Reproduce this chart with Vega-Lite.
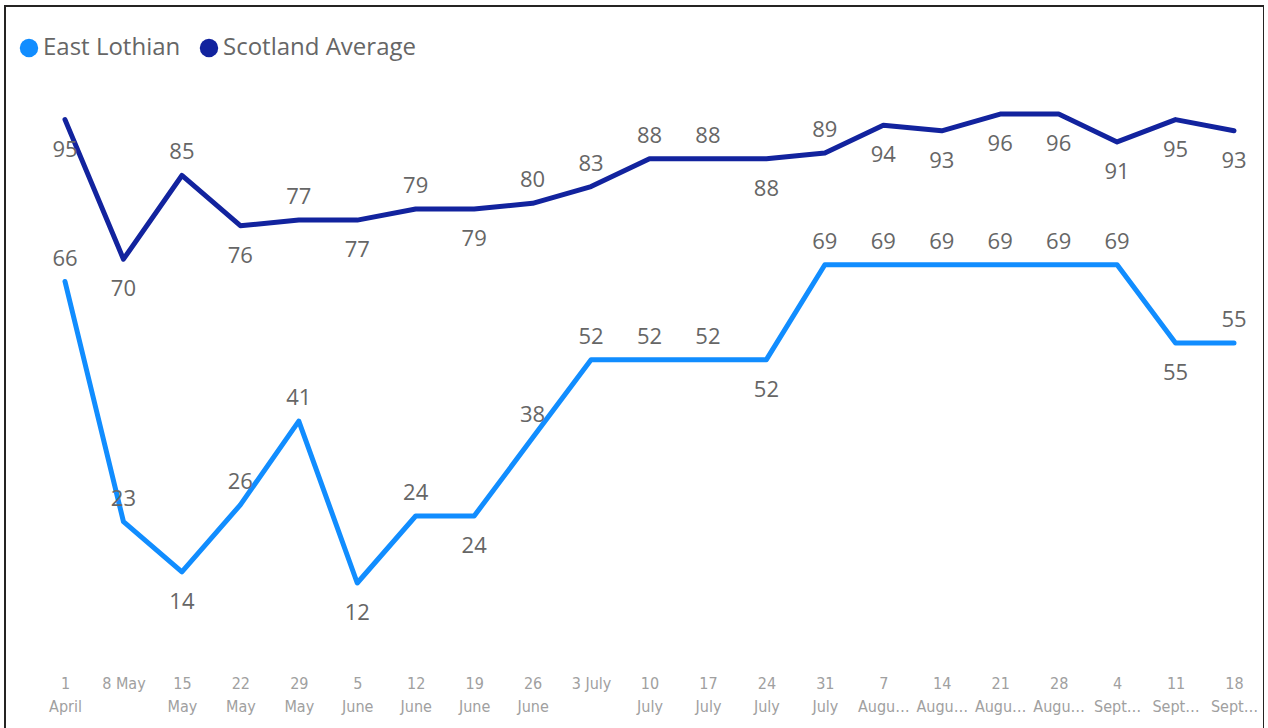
{
  "$schema": "https://vega.github.io/schema/vega-lite/v6.json",
  "autosize": {"type": "none"},
  "padding": {"left": 5, "top": 6, "right": 0, "bottom": 0},
  "width": 1259,
  "height": 740,
  "background": "white",
  "config": {
    "view": {"stroke": "#252423", "strokeWidth": 2},
    "font": "Open Sans"
  },
  "data": {
    "values": [
      {"week": "1 April", "area": "East Lothian", "value": 66, "labelPos": "above"},
      {"week": "8 May", "area": "East Lothian", "value": 23, "labelPos": "above"},
      {"week": "15 May", "area": "East Lothian", "value": 14, "labelPos": "below"},
      {"week": "22 May", "area": "East Lothian", "value": 26, "labelPos": "above"},
      {"week": "29 May", "area": "East Lothian", "value": 41, "labelPos": "above"},
      {"week": "5 June", "area": "East Lothian", "value": 12, "labelPos": "below"},
      {"week": "12 June", "area": "East Lothian", "value": 24, "labelPos": "above"},
      {"week": "19 June", "area": "East Lothian", "value": 24, "labelPos": "below"},
      {"week": "26 June", "area": "East Lothian", "value": 38, "labelPos": "above"},
      {"week": "3 July", "area": "East Lothian", "value": 52, "labelPos": "above"},
      {"week": "10 July", "area": "East Lothian", "value": 52, "labelPos": "above"},
      {"week": "17 July", "area": "East Lothian", "value": 52, "labelPos": "above"},
      {"week": "24 July", "area": "East Lothian", "value": 52, "labelPos": "below"},
      {"week": "31 July", "area": "East Lothian", "value": 69, "labelPos": "above"},
      {"week": "7 August", "area": "East Lothian", "value": 69, "labelPos": "above"},
      {"week": "14 August", "area": "East Lothian", "value": 69, "labelPos": "above"},
      {"week": "21 August", "area": "East Lothian", "value": 69, "labelPos": "above"},
      {"week": "28 August", "area": "East Lothian", "value": 69, "labelPos": "above"},
      {"week": "4 September", "area": "East Lothian", "value": 69, "labelPos": "above"},
      {"week": "11 September", "area": "East Lothian", "value": 55, "labelPos": "below"},
      {"week": "18 September", "area": "East Lothian", "value": 55, "labelPos": "above"},
      {"week": "1 April", "area": "Scotland Average", "value": 95, "labelPos": "below"},
      {"week": "8 May", "area": "Scotland Average", "value": 70, "labelPos": "below"},
      {"week": "15 May", "area": "Scotland Average", "value": 85, "labelPos": "above"},
      {"week": "22 May", "area": "Scotland Average", "value": 76, "labelPos": "below"},
      {"week": "29 May", "area": "Scotland Average", "value": 77, "labelPos": "above"},
      {"week": "5 June", "area": "Scotland Average", "value": 77, "labelPos": "below"},
      {"week": "12 June", "area": "Scotland Average", "value": 79, "labelPos": "above"},
      {"week": "19 June", "area": "Scotland Average", "value": 79, "labelPos": "below"},
      {"week": "26 June", "area": "Scotland Average", "value": 80, "labelPos": "above"},
      {"week": "3 July", "area": "Scotland Average", "value": 83, "labelPos": "above"},
      {"week": "10 July", "area": "Scotland Average", "value": 88, "labelPos": "above"},
      {"week": "17 July", "area": "Scotland Average", "value": 88, "labelPos": "above"},
      {"week": "24 July", "area": "Scotland Average", "value": 88, "labelPos": "below"},
      {"week": "31 July", "area": "Scotland Average", "value": 89, "labelPos": "above"},
      {"week": "7 August", "area": "Scotland Average", "value": 94, "labelPos": "below"},
      {"week": "14 August", "area": "Scotland Average", "value": 93, "labelPos": "below"},
      {"week": "21 August", "area": "Scotland Average", "value": 96, "labelPos": "below"},
      {"week": "28 August", "area": "Scotland Average", "value": 96, "labelPos": "below"},
      {"week": "4 September", "area": "Scotland Average", "value": 91, "labelPos": "below"},
      {"week": "11 September", "area": "Scotland Average", "value": 95, "labelPos": "below"},
      {"week": "18 September", "area": "Scotland Average", "value": 93, "labelPos": "below"}
    ]
  },
  "encoding": {
    "x": {
      "field": "week",
      "type": "ordinal",
      "sort": null,
      "scale": {"type": "point", "range": [60, 1229], "padding": 0},
      "axis": {
        "title": null,
        "domain": false,
        "ticks": false,
        "grid": false,
        "offset": -74,
        "labelAngle": 0,
        "labelPadding": 3,
        "labelOverlap": false,
        "labelBound": false,
        "labelLimit": 200,
        "labelFont": "DejaVu Sans Condensed, Liberation Sans Narrow, sans-serif",
        "labelFontSize": 16,
        "labelLineHeight": 23,
        "labelColor": "#a0a0a0",
        "labelExpr": "datum.label == '8 May' || datum.label == '3 July' ? datum.label : split(replace(replace(datum.label, 'August', 'Augu…'), 'September', 'Sept…'), ' ')"
      }
    },
    "y": {
      "field": "value",
      "type": "quantitative",
      "scale": {"domain": [0, 100], "range": [644, 85.7]},
      "axis": null
    }
  },
  "layer": [
    {
      "mark": {"type": "line", "strokeWidth": 5, "strokeCap": "round", "strokeJoin": "round"},
      "encoding": {
        "color": {
          "field": "area",
          "type": "nominal",
          "scale": {"domain": ["East Lothian", "Scotland Average"], "range": ["#118DFF", "#12239E"]},
          "legend": {
            "title": null,
            "orient": "none",
            "legendX": 12,
            "legendY": 30,
            "direction": "horizontal",
            "symbolType": "circle",
            "symbolSize": 340,
            "symbolStrokeWidth": 0,
            "labelFont": "Open Sans",
            "labelFontSize": 24,
            "labelColor": "#666666",
            "labelOffset": 2,
            "columnPadding": 16,
            "labelLimit": 300,
            "encode": {
              "symbols": {
                "update": {
                  "fill": {"scale": "color", "field": "value"},
                  "fillOpacity": {"value": 1}
                }
              }
            }
          }
        }
      }
    },
    {
      "transform": [{"filter": "datum.labelPos == 'above'"}],
      "mark": {"type": "text", "dy": -23, "baseline": "middle", "align": "center", "fontSize": 22, "font": "Open Sans", "color": "#666666"},
      "encoding": {"text": {"field": "value", "type": "quantitative"}}
    },
    {
      "transform": [{"filter": "datum.labelPos == 'below'"}],
      "mark": {"type": "text", "dy": 30, "baseline": "middle", "align": "center", "fontSize": 22, "font": "Open Sans", "color": "#666666"},
      "encoding": {"text": {"field": "value", "type": "quantitative"}}
    }
  ]
}
